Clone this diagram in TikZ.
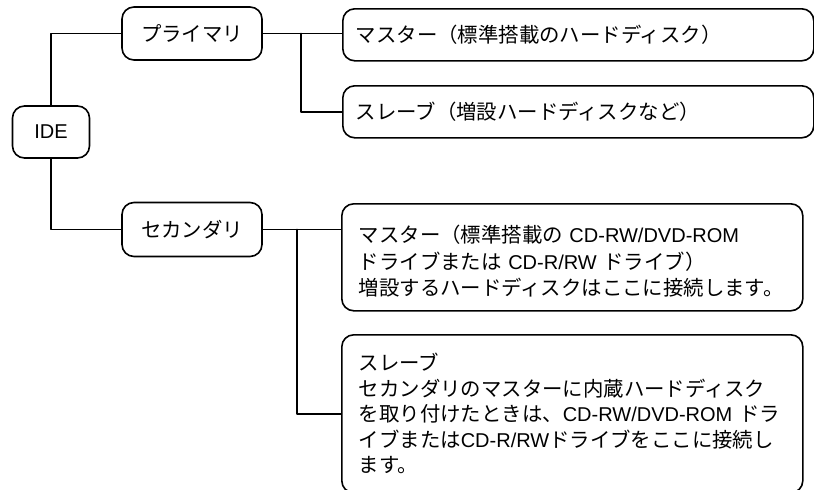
\documentclass[tikz,border=0pt]{standalone}
\usepackage{fontspec}
\setmainfont{Liberation Sans}
\newfontfamily\jpfont[Scale=1.02]{Noto Sans CJK JP}
\newcommand{\jp}[1]{{\jpfont #1}}

\begin{document}
\begin{tikzpicture}[x=1pt, y=-1pt, line cap=round, line join=round,
  box/.style={draw, line width=1.6pt, rounded corners=12pt, inner sep=0pt,
    font=\fontsize{20}{26}\selectfont},
  textbox/.style={box, anchor=north west, align=left},
  link/.style={line width=1.6pt}]
  \useasboundingbox (0,0) rectangle (814,490);

  % Left tree
  \node[box, minimum width=77pt, minimum height=52pt] (ide) at (51,132) {IDE};
  \node[box, minimum width=140pt, minimum height=53pt] (pri) at (192,33.5) {\jp{プライマリ}};
  \node[box, minimum width=140pt, minimum height=54pt] (sec) at (192,229.5) {\jp{セカンダリ}};

  % Primary devices
  \node[textbox, inner xsep=13pt, text width=445pt, minimum height=52pt] (pmaster) at (342,8)
    {\jp{マスター（標準搭載のハードディスク）}};
  \node[textbox, inner xsep=13pt, text width=445pt, minimum height=52pt] (pslave) at (342,85)
    {\jp{スレーブ（増設ハードディスクなど）}};

  % Secondary devices
  \node[textbox, inner xsep=17pt, text width=427pt, minimum height=107pt,
        font=\fontsize{20}{26.5}\selectfont] (smaster) at (341,203)
    {\rule{0pt}{26pt}\jp{マスター（標準搭載の} CD-RW/DVD-ROM\\
     \jp{ドライブまたは} CD-R/RW \jp{ドライブ）}\\
     \jp{増設するハードディスクはここに接続します。}};
  \node[textbox, inner xsep=17pt, text width=427pt, minimum height=158pt,
        font=\fontsize{20}{25.5}\selectfont] (sslave) at (341,334)
    {\jp{スレーブ}\\
     \jp{セカンダリのマスターに内蔵ハードディスク}\\
     \jp{を取り付けたときは、}CD-RW/DVD-ROM \jp{ドラ}\\
     \jp{イブまたは}CD-R/RW\jp{ドライブをここに接続し}\\
     \jp{ます。}};

  % Junctions
  \path (pri.east) ++(38,0) coordinate (pj);
  \path (sec.east) ++(34,0) coordinate (sj);

  % Connectors
  \draw[link] (ide.north) |- (pri.west);
  \draw[link] (ide.south) |- (sec.west);
  \draw[link] (pri.east) -- (pri.east -| pmaster.west);
  \draw[link] (pj) |- (pslave.west);
  \draw[link] (sec.east) -- (sec.east -| smaster.west);
  \draw[link] (sj) |- (sslave.west);
\end{tikzpicture}
\end{document}
